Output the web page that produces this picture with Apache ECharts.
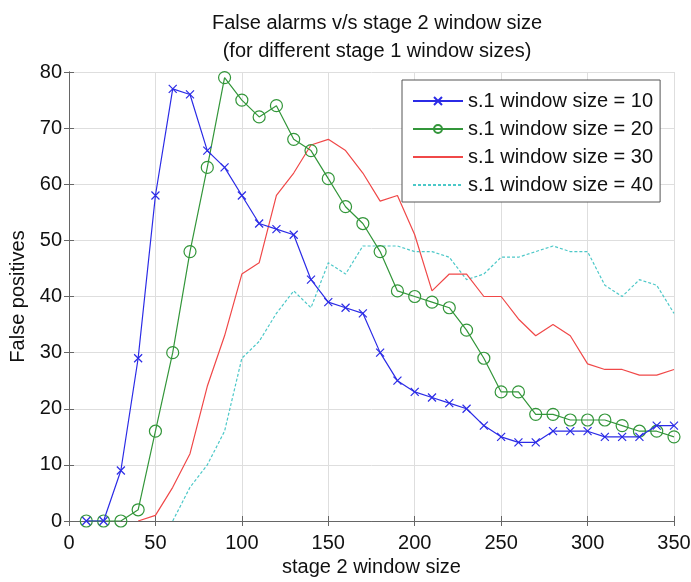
<!DOCTYPE html>
<html>
<head>
<meta charset="utf-8">
<script src="https://cdn.jsdelivr.net/npm/echarts@6/dist/echarts.min.js"></script>
<style>
html,body{margin:0;padding:0;background:#fff;}
#chart{width:691px;height:582px;}
</style>
</head>
<body>
<div id="chart"></div>
<script>
var xTicks = [0, 50, 100, 150, 200, 250, 300, 350];
var yTicks = [0, 10, 20, 30, 40, 50, 60, 70, 80];

var xBlue = [10,20,30,40,50,60,70,80,90,100,110,120,130,140,150,160,170,180,190,200,210,220,230,240,250,260,270,280,290,300,310,320,330,340,350];
var yBlue = [0,0,9,29,58,77,76,66,63,58,53,52,51,43,39,38,37,30,25,23,22,21,20,17,15,14,14,16,16,16,15,15,15,17,17];

var xGreen = [10,20,30,40,50,60,70,80,90,100,110,120,130,140,150,160,170,180,190,200,210,220,230,240,250,260,270,280,290,300,310,320,330,340,350];
var yGreen = [0,0,0,2,16,30,48,63,79,75,72,74,68,66,61,56,53,48,41,40,39,38,34,29,23,23,19,19,18,18,18,17,16,16,15];

var xRed = [40,50,60,70,80,90,100,110,120,130,140,150,160,170,180,190,200,210,220,230,240,250,260,270,280,290,300,310,320,330,340,350];
var yRed = [0,1,6,12,24,33,44,46,58,62,67,68,66,62,57,58,51,41,44,44,40,40,36,33,35,33,28,27,27,26,26,27];

var xCyan = [60,70,80,90,100,110,120,130,140,150,160,170,180,190,200,210,220,230,240,250,260,270,280,290,300,310,320,330,340,350];
var yCyan = [0,6,10,16,29,32,37,41,38,46,44,49,49,49,48,48,47,43,44,47,47,48,49,48,48,42,40,43,42,37];

var seriesNames = ['s.1 window size = 10', 's.1 window size = 20', 's.1 window size = 30', 's.1 window size = 40'];

function pairs(xs, ys) { return xs.map(function (x, i) { return [x, ys[i]]; }); }

var FONT = "'Liberation Sans', Arial, sans-serif";
var AX = '#666';
var GRIDC = '#dedede';
var BLUE = '#2b2be6', GREEN = '#33963a', RED = '#f04848', CYAN = '#4cc8c8';

var chart = echarts.init(document.getElementById('chart'), null, {renderer: 'canvas'});
var axisCommon = {
  type: 'value',
  axisLine: {show: true, lineStyle: {color: AX, width: 1}},
  axisTick: {show: true, inside: true, length: 5, lineStyle: {color: AX}},
  splitLine: {show: false}
};
var option = {
  animation: false,
  backgroundColor: '#fff',
  textStyle: {fontFamily: FONT},
  title: {
    text: 'False alarms v/s stage 2 window size\n(for different stage 1 window sizes)',
    left: 372, top: 4, textAlign: 'center',
    textStyle: {fontFamily: FONT, fontSize: 20, fontWeight: 'normal', color: '#111', lineHeight: 28}
  },
  grid: {left: 69, right: 17, top: 72, bottom: 61, containLabel: false, outerBoundsMode: 'none'},
  legend: {
    orient: 'vertical',
    left: 402, top: 80,
    padding: [11, 7, 7, 10],
    itemWidth: 50, itemHeight: 10, itemGap: 8,
    backgroundColor: '#fff',
    borderColor: '#555', borderWidth: 1,
    selectedMode: false,
    textStyle: {fontFamily: FONT, fontSize: 20, color: '#111', lineHeight: 20},
    data: [
      {name: seriesNames[0]},
      {name: seriesNames[1]},
      {name: seriesNames[2], itemStyle: {color: 'rgba(0,0,0,0)', borderWidth: 0, opacity: 0}},
      {name: seriesNames[3], itemStyle: {color: 'rgba(0,0,0,0)', borderWidth: 0, opacity: 0}}
    ]
  },
  xAxis: [
    Object.assign({}, axisCommon, {
      min: 0, max: 350, interval: 50, position: 'bottom',
      axisLabel: {show: true, margin: 12, fontSize: 20, color: '#111', fontFamily: FONT,
        formatter: function (v) { return xTicks.indexOf(v) >= 0 ? String(v) : ''; }},
      splitLine: {show: true, lineStyle: {color: GRIDC, width: 1}},
      name: 'stage 2 window size', nameLocation: 'middle', nameGap: 35,
      nameTextStyle: {fontSize: 20, color: '#111', fontFamily: FONT}
    }),
    Object.assign({}, axisCommon, {
      min: 0, max: 350, interval: 50, position: 'top',
      axisLabel: {show: false}
    })
  ],
  yAxis: [
    Object.assign({}, axisCommon, {
      min: 0, max: 80, interval: 10, position: 'left',
      axisLabel: {show: true, margin: 7, fontSize: 20, color: '#111', fontFamily: FONT,
        formatter: function (v) { return yTicks.indexOf(v) >= 0 ? String(v) : ''; }},
      splitLine: {show: true, lineStyle: {color: GRIDC, width: 1}},
      name: 'False positives', nameLocation: 'middle', nameGap: 32,
      nameTextStyle: {fontSize: 20, color: '#111', fontFamily: FONT}
    }),
    Object.assign({}, axisCommon, {
      min: 0, max: 80, interval: 10, position: 'right',
      axisLabel: {show: false}
    })
  ],
  series: [
    {
      name: seriesNames[0], type: 'line', data: pairs(xBlue, yBlue),
      symbol: 'path://M0,0L10,10M10,0L0,10', symbolSize: 8, showAllSymbol: true,
      itemStyle: {color: 'rgba(0,0,0,0)', borderColor: BLUE, borderWidth: 1.2},
      lineStyle: {color: BLUE, width: 1.2},
      emphasis: {disabled: true}, z: 4
    },
    {
      name: seriesNames[1], type: 'line', data: pairs(xGreen, yGreen),
      symbol: 'circle', symbolSize: 12, showAllSymbol: true,
      itemStyle: {color: 'rgba(0,0,0,0)', borderColor: GREEN, borderWidth: 1.2},
      lineStyle: {color: GREEN, width: 1.2},
      emphasis: {disabled: true}, z: 3
    },
    {
      name: seriesNames[2], type: 'line', data: pairs(xRed, yRed),
      symbol: 'none',
      itemStyle: {color: RED},
      lineStyle: {color: RED, width: 1.2},
      emphasis: {disabled: true}, z: 2
    },
    {
      name: seriesNames[3], type: 'line', data: pairs(xCyan, yCyan),
      symbol: 'none',
      itemStyle: {color: CYAN},
      lineStyle: {color: CYAN, width: 1.2, type: [3, 2]},
      emphasis: {disabled: true}, z: 1
    }
  ]
};
chart.setOption(option);
</script>
</body>
</html>
